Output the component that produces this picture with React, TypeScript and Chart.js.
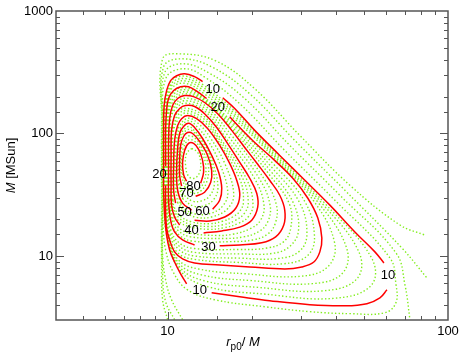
import { useEffect, useRef } from 'react';
import { Chart, registerables } from 'chart.js';
Chart.register(...registerables);

// axis ranges and labelled ticks
const xRange = [4, 100];
const yRange = [3, 1000];
const xTickLabels = [10, 100];
const yTickLabels = [10, 100, 1000];

// red contour levels: lists of segments (gaps where labels sit); points are [r_p0/M, M]
const red10 = [
  [[14.36, 5.0], [18.09, 4.64], [23.12, 4.31], [32.15, 4.0], [42.88, 3.92], [51.37, 4.08], [57.17, 4.55], [60.56, 5.29]],
  [[59.08, 8.77], [54.87, 10.8], [46.55, 15.7], [37.91, 26.0], [30.87, 41.5], [25.12, 66.2], [20.45, 106], [17.35, 160], [15.73, 196]],
  [[13.33, 265], [12.48, 291], [11.5, 307], [10.77, 296], [10.25, 270], [9.92, 224], [9.72, 169], [9.68, 106], [9.68, 60.3], [9.68, 34.4], [9.76, 21.5], [9.92, 14.8], [10.17, 11.2], [10.59, 8.93], [11.13, 7.14], [11.69, 5.92]],
];
const red20 = [
  [[9.84, 37.8], [9.84, 23.7], [9.92, 16.9], [10.17, 13.5], [10.59, 10.8], [11.31, 9.46], [12.48, 8.77], [15.34, 8.45], [19.63, 8.14], [26.17, 7.84], [30.11, 8.14], [33.23, 8.93], [34.91, 10.8], [35.49, 14.0], [34.34, 20.4], [31.64, 29.6], [27.96, 43.1], [24.09, 60.3], [20.45, 84.5], [18.09, 112], [16.65, 137]],
  [[13.78, 193], [12.8, 219], [11.88, 241], [11.13, 241], [10.51, 224], [10.08, 193], [9.92, 154], [9.84, 106], [9.84, 72.7], [9.84, 53.9]],
];
const red30 = [
  [[15.34, 12.1], [18.09, 12.3], [21.66, 12.8], [24.29, 14.3], [25.96, 17.9], [26.17, 23.7], [25.12, 31.3], [23.12, 41.5], [20.96, 56.0], [18.84, 76.9], [16.93, 106], [15.09, 145], [13.55, 179], [12.38, 200], [11.5, 204], [10.86, 193], [10.42, 169], [10.17, 132], [10.08, 87.7], [10.08, 50.0], [10.08, 28.5], [10.25, 19.6], [10.59, 15.7], [11.31, 13.5], [12.48, 12.3]],
];
const red40 = [
  [[13.44, 15.4], [15.6, 16.0], [18.09, 17.2], [19.96, 19.6], [20.96, 25.0], [20.79, 32.5], [19.63, 43.1], [18.09, 58.1], [16.53, 79.9], [14.97, 112], [13.55, 145], [12.48, 166], [11.59, 169], [11.04, 160], [10.59, 140], [10.33, 106], [10.29, 66.2], [10.29, 37.8], [10.33, 26.0], [10.59, 20.8], [11.04, 17.9]],
];
const red50 = [
  [[12.48, 19.6], [14.13, 19.3], [15.99, 20.8], [17.5, 24.5], [18.09, 31.3], [17.64, 41.5], [16.65, 57.0], [15.34, 79.9], [13.89, 110], [12.69, 132], [11.78, 140], [11.22, 132], [10.86, 116], [10.59, 87.7], [10.51, 54.9], [10.51, 34.4], [10.68, 27.0]],
];
const red60 = [
  [[14.48, 24.1], [15.34, 28.5], [15.6, 35.7], [15.21, 48.2], [14.36, 66.2], [13.33, 91.0], [12.48, 112], [11.88, 121], [11.4, 114], [11.04, 100], [10.86, 75.5], [10.77, 50.0], [10.86, 34.4], [11.31, 27.0], [12.18, 23.7]],
];
const red70 = [
  [[12.59, 30.7], [13.55, 33.1], [14.25, 40.0], [14.36, 50.0], [13.89, 66.2], [13.01, 86.1], [12.28, 100], [11.78, 102], [11.4, 94.5], [11.13, 79.9], [11.04, 60.3], [11.04, 45.6], [11.22, 37.1]],
];
const red80 = [
  [[13.12, 39.2], [13.44, 48.2], [13.33, 60.3], [12.9, 74.1], [12.38, 82.9], [11.88, 82.9], [11.5, 72.7], [11.31, 58.1], [11.4, 46.4], [11.69, 40.7]],
];
const redLevels = [red10, red20, red30, red40, red50, red60, red70, red80];

// green dotted intermediate contours
const green2 = [[10.0, 3.02], [9.6, 4.39], [9.52, 9.28], [9.52, 28.5], [9.52, 128], [9.6, 407], [11.04, 447], [14.84, 392], [20.45, 232], [29.62, 96.3], [44.67, 37.8], [67.39, 17.9], [82.77, 14.8]];
const green4 = [[10.59, 3.02], [9.84, 4.23], [9.6, 7.01], [9.56, 28.5], [9.56, 128], [9.68, 350], [11.22, 407], [14.36, 350], [19.63, 211], [28.43, 87.7], [42.88, 34.4], [68.5, 11.6], [84.1, 6.62]];
const green6 = [[11.31, 3.02], [10.33, 4.39], [9.84, 6.38], [9.6, 10.2], [9.6, 28.5], [9.6, 128], [9.76, 313], [11.31, 371], [14.01, 313], [18.84, 193], [27.28, 79.9], [41.15, 31.3], [65.2, 10.6], [70.22, 5.81], [73.17, 3.02]];
const green8 = [[9.63, 28.5], [9.63, 128], [9.88, 285], [11.5, 338], [13.67, 285], [18.09, 175], [26.17, 72.7], [39.5, 28.5], [62.07, 9.63], [65.2, 5.92], [65.2, 4.15], [59.57, 3.44], [44.67, 3.38], [32.15, 3.51], [22.19, 3.85], [14.72, 4.39], [11.78, 5.29], [10.51, 7.27], [9.84, 11.2], [9.63, 17.9]];
const green12 = [[9.71, 28.5], [9.71, 128], [10.2, 260], [11.5, 294], [13.37, 250], [17.35, 152], [24.9, 65.0], [36.6, 26.5], [53.4, 9.63], [53.2, 5.75], [39.2, 4.51], [22.0, 4.89], [13.96, 5.6], [11.07, 7.64], [9.93, 14.8]];
const green14 = [[9.74, 28.5], [9.74, 128], [10.23, 248], [11.5, 281], [13.42, 237], [17.35, 145], [24.69, 63.8], [35.49, 27.0], [48.1, 10.8], [47.3, 6.5], [35.8, 5.19], [21.0, 5.54], [13.55, 6.26], [11.01, 8.17], [9.95, 14.8]];
const green16 = [[9.77, 28.5], [9.77, 128], [10.26, 238], [11.5, 269], [13.46, 224], [17.35, 138], [24.49, 62.6], [34.34, 27.5], [43.4, 11.8], [42.1, 7.25], [32.8, 5.94], [19.96, 6.29], [13.2, 7.01], [10.96, 8.74], [9.97, 14.8]];
const green18 = [[9.81, 28.5], [9.81, 128], [10.3, 229], [11.5, 257], [13.5, 211], [17.35, 131], [24.29, 61.5], [33.23, 28.0], [39.4, 12.85], [37.4, 8.23], [29.9, 6.83], [19.0, 7.14], [12.84, 7.84], [10.9, 9.35], [9.98, 14.8]];
const green22 = [[9.89, 28.5], [9.89, 128], [10.37, 210], [11.5, 237], [13.55, 196], [17.35, 119], [23.9, 56.0], [30.8, 28.0], [33.4, 14.7], [31.6, 10.1], [26.0, 8.64], [18.09, 8.84], [12.48, 9.38], [10.88, 10.6], [10.07, 15.2]];
const green24 = [[9.93, 28.5], [9.93, 128], [10.4, 201], [11.5, 228], [13.55, 191], [17.35, 114], [23.69, 51.9], [29.5, 27.5], [31.4, 15.4], [29.62, 11.0], [24.8, 9.53], [18.09, 9.6], [12.48, 10.0], [10.92, 11.4], [10.13, 15.6]];
const green26 = [[9.98, 28.5], [9.98, 128], [10.44, 192], [11.5, 219], [13.55, 187], [17.35, 108], [23.5, 48.2], [28.1, 27.0], [29.3, 16.2], [27.3, 12.0], [23.7, 10.5], [18.09, 10.4], [12.48, 10.7], [10.96, 12.1], [10.2, 16.0]];
const green28 = [[10.03, 28.5], [10.03, 128], [10.47, 183], [11.5, 211], [13.55, 183], [17.35, 103], [23.3, 44.7], [27.2, 26.5], [27.5, 17.0], [25.96, 13.1], [22.6, 11.6], [18.09, 11.3], [12.48, 11.5], [11.0, 12.8], [10.26, 16.5]];
const green33 = [[10.13, 28.5], [10.13, 128], [10.55, 169], [11.52, 194], [13.55, 170], [16.89, 96.8], [22.19, 41.9], [24.45, 26.0], [24.2, 18.4], [22.66, 15.0], [20.07, 13.5], [17.0, 13.1], [12.31, 13.2], [11.0, 14.8], [10.36, 18.2]];
const green35 = [[10.19, 28.5], [10.19, 128], [10.59, 163], [11.55, 185], [13.55, 161], [16.45, 95.4], [21.3, 42.3], [23.2, 26.0], [22.74, 18.9], [21.13, 15.8], [18.6, 14.3], [15.99, 13.9], [12.13, 14.3], [10.95, 16.0], [10.38, 19.6]];
const green38 = [[10.24, 28.5], [10.24, 128], [10.64, 157], [11.57, 177], [13.55, 153], [16.02, 94.1], [20.45, 42.7], [22.07, 26.0], [21.4, 19.4], [19.7, 16.7], [17.24, 15.1], [15.03, 14.7], [11.96, 15.4], [10.9, 17.2], [10.4, 21.1]];
const green43 = [[10.34, 28.5], [10.34, 96.3], [10.77, 145], [11.62, 161], [13.55, 137], [15.34, 93.2], [19.1, 42.7], [20.16, 26.6], [19.43, 21.0], [17.93, 18.5], [15.88, 17.0], [14.07, 16.5], [11.88, 17.4], [10.92, 19.4], [10.46, 23.5]];
const green45 = [[10.4, 28.5], [10.4, 96.3], [10.86, 139], [11.64, 154], [13.55, 130], [15.09, 93.6], [18.6, 42.3], [19.39, 27.2], [18.76, 22.2], [17.5, 19.6], [15.79, 18.0], [14.01, 17.4], [11.98, 18.2], [11.0, 20.4], [10.51, 24.3]];
const green48 = [[10.45, 28.5], [10.45, 96.3], [10.95, 133], [11.67, 147], [13.55, 123], [14.84, 94.1], [18.13, 41.9], [18.65, 27.9], [18.13, 23.3], [17.07, 20.8], [15.7, 19.2], [13.95, 18.3], [12.08, 19.1], [11.06, 21.3], [10.55, 25.1]];
const green53 = [[10.88, 27.0], [10.62, 37.8], [10.59, 60.3], [10.68, 85.0], [10.95, 112], [11.81, 133], [12.9, 120], [14.28, 90.6], [15.99, 57.0], [17.21, 32.3], [16.39, 24.4], [14.44, 20.9], [12.62, 20.7], [11.47, 23.2]];
const green56 = [[11.1, 27.0], [10.74, 37.8], [10.68, 60.3], [10.77, 82.5], [11.04, 108], [11.85, 127], [12.8, 112], [13.97, 86.6], [15.34, 57.0], [16.39, 33.3], [15.73, 25.6], [14.16, 22.2], [12.57, 22.0], [11.53, 24.1]];
const green63 = [[11.34, 29.2], [10.93, 39.0], [10.86, 60.3], [10.95, 79.9], [11.22, 101], [11.88, 114], [12.62, 102], [13.52, 82.5], [14.51, 57.0], [15.12, 36.2], [14.6, 28.9], [13.55, 25.8], [12.38, 25.5]];
const green66 = [[11.37, 31.7], [11.01, 40.2], [10.95, 60.3], [11.04, 79.9], [11.31, 97.6], [11.88, 108], [12.57, 99.4], [13.34, 81.8], [14.32, 57.0], [14.68, 38.7], [14.13, 30.9], [13.22, 28.2], [12.28, 28.0]];
const green73 = [[11.53, 36.2], [11.2, 46.4], [11.13, 60.3], [11.25, 77.4], [11.85, 95.1], [12.68, 89.4], [13.33, 73.1], [13.97, 54.9], [13.8, 40.5], [13.15, 34.0], [12.34, 32.5]];
const green76 = [[11.66, 38.0], [11.29, 47.3], [11.22, 60.3], [11.37, 75.1], [11.91, 88.9], [12.62, 84.5], [13.22, 71.0], [13.68, 54.9], [13.52, 40.9], [12.97, 35.7], [12.31, 34.4]];
const green83 = [[12.18, 75.5], [12.8, 70.1], [13.12, 58.1], [13.01, 48.2], [12.48, 43.1], [11.88, 44.7], [11.59, 54.9], [11.69, 68.8]];

const openGreens = [green2, green4, green6];
const closedGreens = [green8, green12, green14, green16, green18, green22, green24, green26, green28, green33, green35, green38, green43, green45, green48, green53, green56, green63, green66, green73, green76, green83];

// contour labels
const labelText = ['10', '20', '20', '30', '40', '50', '60', '70', '80', '10', '10'];
const labelX = [14.48, 15.09, 9.36, 14.0, 12.18, 11.5, 13.33, 11.69, 12.38, 13.01, 61.06];
const labelY = [228, 163, 46.5, 11.8, 16.3, 22.8, 23.2, 32.5, 37.1, 5.19, 6.88];

const FONT = '"Liberation Sans", Arial, Helvetica, sans-serif';
const RED = '#ff0000';
const GREEN = 'rgb(130,238,30)';

const isPow10 = (v: number) => Math.abs(Math.log10(v) - Math.round(Math.log10(v))) < 1e-6;

const overlay = {
  id: 'overlay',
  afterDatasetsDraw(chart: any) {
    const { ctx, chartArea, scales } = chart;
    const { left, right, top, bottom } = chartArea;
    const xs = scales.x;
    const ys = scales.y;
    ctx.save();
    ctx.strokeStyle = '#555';
    ctx.lineWidth = 1.5;
    ctx.strokeRect(left, top, right - left, bottom - top);
    ctx.lineWidth = 1;
    ctx.beginPath();
    for (const t of xs.ticks) {
      const px = Math.round(xs.getPixelForValue(t.value)) + 0.5;
      if (px <= left + 1 || px >= right - 1) continue;
      const len = isPow10(t.value) ? 8 : 4;
      ctx.moveTo(px, bottom); ctx.lineTo(px, bottom - len);
      ctx.moveTo(px, top); ctx.lineTo(px, top + len);
    }
    for (const t of ys.ticks) {
      const py = Math.round(ys.getPixelForValue(t.value)) + 0.5;
      if (py <= top + 1 || py >= bottom - 1) continue;
      const len = isPow10(t.value) ? 8 : 4;
      ctx.moveTo(left, py); ctx.lineTo(left + len, py);
      ctx.moveTo(right, py); ctx.lineTo(right - len, py);
    }
    ctx.stroke();

    // contour labels
    ctx.fillStyle = '#000';
    ctx.font = `13px ${FONT}`;
    ctx.textAlign = 'center';
    ctx.textBaseline = 'middle';
    labelText.forEach((s, i) => {
      ctx.fillText(s, xs.getPixelForValue(labelX[i]), ys.getPixelForValue(labelY[i]));
    });

    // x title: r_p0/ M
    const cx = 243;
    const ty = 346;
    ctx.textAlign = 'left';
    ctx.textBaseline = 'alphabetic';
    const parts = [
      { s: 'r', f: `italic 13px ${FONT}`, dy: 0 },
      { s: 'p0', f: `10px ${FONT}`, dy: 4 },
      { s: '/ ', f: `13px ${FONT}`, dy: 0 },
      { s: 'M', f: `italic 13px ${FONT}`, dy: 0 },
    ];
    let w = 0;
    parts.forEach((p) => { ctx.font = p.f; w += ctx.measureText(p.s).width; });
    let x0 = cx - w / 2;
    parts.forEach((p) => { ctx.font = p.f; ctx.fillText(p.s, x0, ty + p.dy); x0 += ctx.measureText(p.s).width; });

    // y title: M [MSun]
    ctx.translate(15, (top + bottom) / 2);
    ctx.rotate(-Math.PI / 2);
    const yparts = [
      { s: 'M', f: `italic 13px ${FONT}` },
      { s: ' [MSun]', f: `13px ${FONT}` },
    ];
    w = 0;
    yparts.forEach((p) => { ctx.font = p.f; w += ctx.measureText(p.s).width; });
    x0 = -w / 2;
    yparts.forEach((p) => { ctx.font = p.f; ctx.fillText(p.s, x0, 0); x0 += ctx.measureText(p.s).width; });
    ctx.restore();
  },
};

export default function App() {
  const ref = useRef<HTMLCanvasElement | null>(null);
  useEffect(() => {
    if (!ref.current) return;
    const datasets: any[] = [];
    const toPts = (arr: number[][]) => arr.map(([x, y]) => ({ x, y }));
    redLevels.forEach((lvl) => {
      lvl.forEach((seg) => {
        datasets.push({
          data: toPts(seg),
          showLine: true,
          borderColor: RED,
          borderWidth: 1.5,
          pointRadius: 0,
          tension: 0.4,
          fill: false,
        });
      });
    });
    const greenStyle = {
      showLine: true,
      borderColor: GREEN,
      borderWidth: 1.4,
      borderDash: [1.4, 2.2],
      pointRadius: 0,
      tension: 0.4,
      fill: false,
    };
    openGreens.forEach((g) => datasets.push({ ...greenStyle, data: toPts(g) }));
    closedGreens.forEach((g) => datasets.push({ ...greenStyle, data: toPts([...g, g[0]]) }));

    const chart = new Chart(ref.current, {
      type: 'scatter',
      data: { datasets },
      options: {
        animation: false,
        responsive: false,
        maintainAspectRatio: false,
        layout: { padding: { top: 11, right: 15, left: 0, bottom: 0 } },
        plugins: { legend: { display: false }, tooltip: { enabled: false } },
        scales: {
          x: {
            type: 'logarithmic',
            min: xRange[0],
            max: xRange[1],
            grid: { display: false, drawTicks: false },
            border: { display: false },
            ticks: {
              autoSkip: false,
              maxRotation: 0,
              padding: 4,
              color: '#000',
              font: { family: FONT, size: 13 },
              callback: (v: any) => (xTickLabels.includes(Number(v)) ? String(v) : ''),
            },
            afterFit: (s: any) => { s.height = 38; },
          },
          y: {
            type: 'logarithmic',
            min: yRange[0],
            max: yRange[1],
            grid: { display: false, drawTicks: false },
            border: { display: false },
            ticks: {
              autoSkip: false,
              padding: 3,
              color: '#000',
              font: { family: FONT, size: 13 },
              callback: (v: any) => (yTickLabels.includes(Number(v)) ? String(v) : ''),
            },
            afterFit: (s: any) => { s.width = 56; },
          },
        },
      },
      plugins: [overlay],
    });
    return () => chart.destroy();
  }, []);
  return (
    <div style={{ position: 'fixed', left: 0, top: 0, width: 463, height: 358, background: '#fff' }}>
      <canvas ref={ref} width={463} height={358} />
    </div>
  );
}
